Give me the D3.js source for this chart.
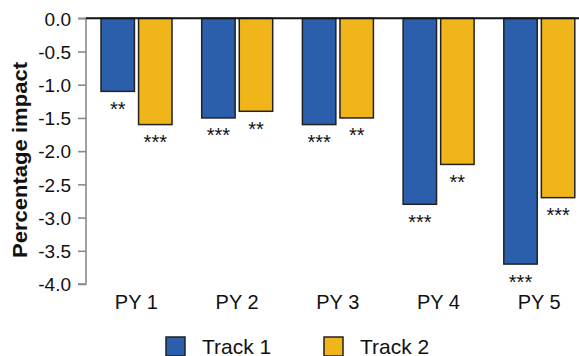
<!DOCTYPE html>
<html>
<head>
<meta charset="utf-8">
<script src="https://cdn.jsdelivr.net/npm/d3@7"></script>
<style>
  html, body { margin: 0; padding: 0; background: #fff; }
  svg { display: block; font-family: "Liberation Sans", Arial, sans-serif; }
</style>
</head>
<body>
<svg id="chart" width="579" height="356"></svg>
<script>
// Program years and the two tracks
const categories = ["PY 1", "PY 2", "PY 3", "PY 4", "PY 5"];
const seriesNames = ["Track 1", "Track 2"];
const track1 = [-1.1, -1.5, -1.6, -2.8, -3.7];
const track2 = [-1.6, -1.4, -1.5, -2.2, -2.7];
const track1Stars = ["**", "***", "***", "***", "***"];
const track2Stars = ["***", "**", "**", "**", "***"];
const yTicks = [0, -0.5, -1, -1.5, -2, -2.5, -3, -3.5, -4];
const colors = ["#2b5fab", "#f0b51b"];

const svg = d3.select("#chart");

const x0 = d3.scaleBand().domain(categories).range([86, 589.5]).padding(0);
const x1 = d3.scaleBand().domain(seriesNames).range([15, 86]).paddingInner(0.11).paddingOuter(0);
const y = d3.scaleLinear().domain([0, -4]).range([18.3, 284]);

const rows = categories.map((c, i) => ({
  cat: c,
  vals: [
    { s: seriesNames[0], v: track1[i], star: track1Stars[i], color: colors[0] },
    { s: seriesNames[1], v: track2[i], star: track2Stars[i], color: colors[1] }
  ]
}));

// y axis
const yAxis = d3.axisLeft(y).tickValues(yTicks).tickSize(8).tickPadding(7)
  .tickFormat(d => d.toFixed(1));
const gy = svg.append("g").attr("transform", "translate(86,0)").call(yAxis);
gy.select(".domain").attr("stroke", "#8a8a8a").attr("stroke-width", 1.6)
  .attr("d", `M-8,${y(0)}H0V${y(-4)}H-8`);
gy.selectAll(".tick line").attr("stroke", "#8a8a8a").attr("stroke-width", 1.6);
gy.selectAll(".tick text").attr("fill", "#111").style("font-size", "19px")
  .attr("dy", "0.36em");

// bars
const groups = svg.append("g").selectAll("g").data(rows).join("g")
  .attr("transform", d => `translate(${x0(d.cat)},0)`);

groups.selectAll("rect").data(d => d.vals).join("rect")
  .attr("x", d => x1(d.s))
  .attr("width", x1.bandwidth())
  .attr("y", d => y(0))
  .attr("height", d => y(d.v) - y(0))
  .attr("fill", d => d.color)
  .attr("stroke", "#222")
  .attr("stroke-width", 1.5);

// significance markers
groups.selectAll("text.star").data(d => d.vals).join("text")
  .attr("class", "star")
  .attr("x", d => x1(d.s) + x1.bandwidth() / 2)
  .attr("y", d => y(d.v) + 24.5)
  .attr("text-anchor", "middle")
  .style("font-size", "20px")
  .attr("fill", "#111")
  .text(d => d.star);

// zero line
svg.append("line")
  .attr("x1", 86).attr("x2", 579)
  .attr("y1", y(0)).attr("y2", y(0))
  .attr("stroke", "#111").attr("stroke-width", 2);

// category labels
svg.append("g").selectAll("text").data(categories).join("text")
  .attr("x", d => x0(d) + x0.bandwidth() / 2)
  .attr("y", 309)
  .attr("text-anchor", "middle")
  .style("font-size", "20px")
  .attr("fill", "#111")
  .text(d => d);

// y axis title
svg.append("text")
  .attr("transform", "translate(27,160) rotate(-90)")
  .attr("text-anchor", "middle")
  .style("font-size", "21px")
  .style("font-weight", "bold")
  .attr("textLength", 196)
  .attr("lengthAdjust", "spacingAndGlyphs")
  .attr("fill", "#111")
  .text("Percentage impact");

// legend
const legendX = [166, 324];
const legend = svg.append("g").selectAll("g").data(seriesNames).join("g")
  .attr("transform", (d, i) => `translate(${legendX[i]},337)`);
legend.append("rect")
  .attr("width", 19).attr("height", 19)
  .attr("fill", (d, i) => colors[i])
  .attr("stroke", "#222").attr("stroke-width", 1.5);
legend.append("text")
  .attr("x", 36).attr("y", 17)
  .style("font-size", "21px")
  .attr("fill", "#111")
  .text(d => d);
</script>
</body>
</html>
